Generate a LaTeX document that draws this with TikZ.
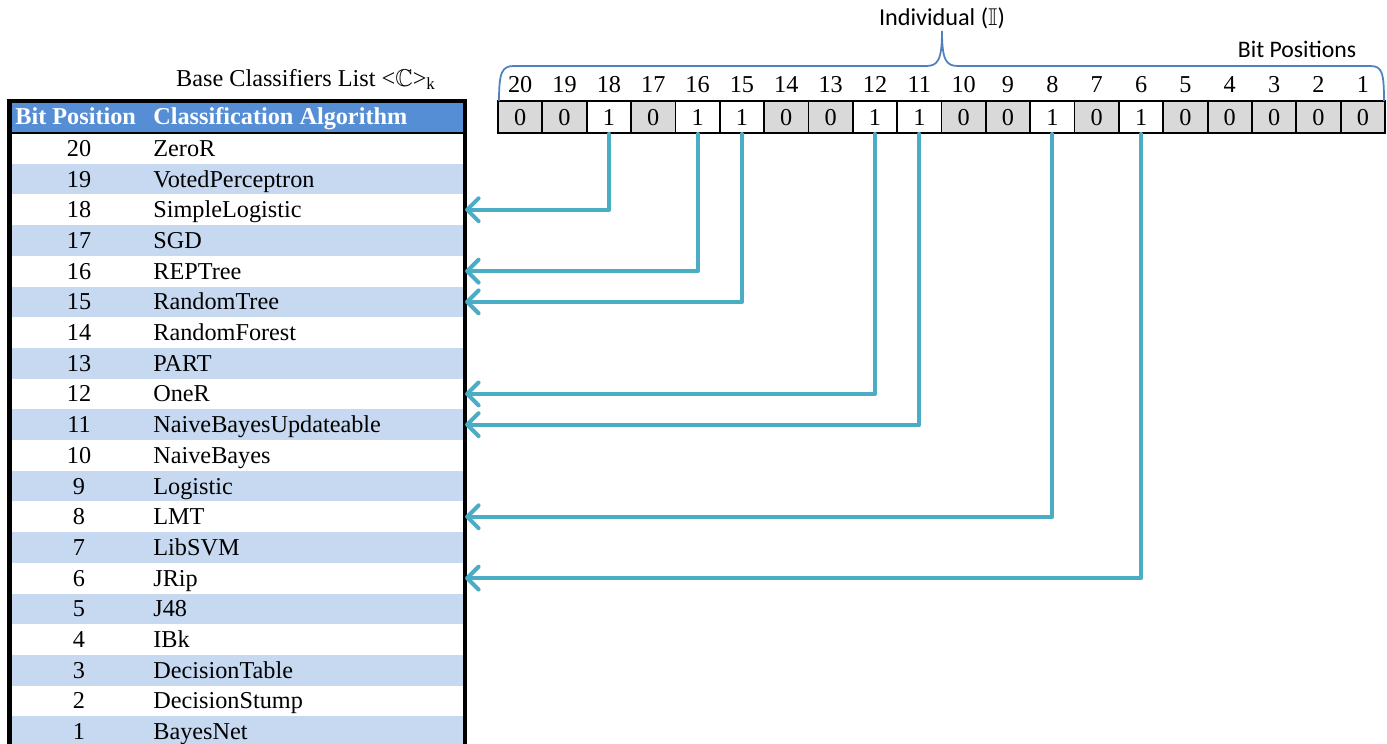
\documentclass[tikz,border=0pt]{standalone}
\usepackage{fontspec}
\usepackage{amssymb}
\setmainfont{Liberation Serif}
\newfontfamily\calibri{Carlito}
\usetikzlibrary{arrows.meta}
\definecolor{hdrblue}{HTML}{558ED5}
\definecolor{rowblue}{HTML}{C6D9F1}
\definecolor{cellgray}{HTML}{D9D9D9}
\definecolor{bracecol}{HTML}{4F81BD}
\definecolor{linkcol}{HTML}{4BACC6}
\begin{document}
\begin{tikzpicture}[x=0.02cm,y=-0.02cm,
    every node/.style={font=\fontsize{13.8}{16}\selectfont},
    rowbox/.style={minimum width=9.1cm,minimum height=0.614cm,inner sep=0,anchor=west},
    bitbox/.style={draw,line width=1pt,minimum width=0.887cm,minimum height=0.64cm,inner sep=0},
    celltext/.style={inner sep=0,anchor=base},
    headtext/.style={inner sep=0,anchor=base west,text=white,font=\fontsize{13.8}{16}\selectfont\bfseries},
    link/.style={draw=linkcol,line width=2.3pt,line cap=round,line join=round,
        -{Straight Barb[length=6.5pt,width=13pt,round]}}]
    \clip (0,0) rectangle (1387,744);
    % classifier list
    \node[anchor=base] (title) at (306,86) {Base Classifiers List <$\mathbb{C}$>\textsubscript{k}};
    \node[rowbox,fill=hdrblue,minimum height=0.62cm] (head) at (9.5,117) {};
    \node[headtext] (headbit) at (15,124) {Bit Position};
    \node[headtext] (headalg) at (153,124) {Classification Algorithm};
    \foreach \b/\alg in {20/ZeroR,19/VotedPerceptron,18/SimpleLogistic,17/SGD,16/REPTree,
        15/RandomTree,14/RandomForest,13/PART,12/OneR,11/NaiveBayesUpdateable,10/NaiveBayes,
        9/Logistic,8/LMT,7/LibSVM,6/JRip,5/J48,4/IBk,3/DecisionTable,2/DecisionStump,1/BayesNet} {
        \pgfmathsetmacro\ry{148.35+30.7*(20-\b)}
        \pgfmathsetmacro\rb{\ry+8}
        \pgfmathtruncatemacro\odd{mod(\b,2)}
        \ifnum\odd=1 \def\rowfill{rowblue}\else\def\rowfill{white}\fi
        \node[rowbox,fill=\rowfill] (row\b) at (9.5,\ry) {};
        \node[celltext] (num\b) at (79,\rb) {\b};
        \node[celltext,anchor=base west] (alg\b) at (153,\rb) {\alg};
    }
    \draw[line width=1pt] (head.south west) -- (head.south east);
    \draw[line width=2.6pt] (head.north west) rectangle (row1.south east);
    % individual
    \foreach \b/\v in {20/0,19/0,18/1,17/0,16/1,15/1,14/0,13/0,12/1,11/1,
        10/0,9/0,8/1,7/0,6/1,5/0,4/0,3/0,2/0,1/0} {
        \pgfmathsetmacro\bx{520.2+44.35*(20-\b)}
        \ifnum\v=0 \def\bitfill{cellgray}\else\def\bitfill{white}\fi
        \node[bitbox,fill=\bitfill] (bit\b) at (\bx,117) {};
        \node[celltext] (val\b) at (\bx,125) {\v};
        \node[celltext] (pos\b) at (\bx,92) {\b};
    }
    \draw[bracecol,line width=1pt] (499,101) .. controls (499,72) and (502,66) .. (514,66)
        -- (926,66) .. controls (938,66) and (942,60) .. (942,31)
        .. controls (942,60) and (946,66) .. (958,66) -- (1370,66)
        .. controls (1382,66) and (1384,72) .. (1384,101);
    \node[font=\fontsize{13.8}{16}\selectfont\calibri] (indiv) at (942,18) {Individual ($\mathbb{I}$)};
    \node[font=\fontsize{13.5}{16}\selectfont\calibri] (bitpos) at (1297,49) {Bit Positions};
    % links
    \foreach \b in {18,16,15,12,11,8,6}
        \draw[link] (bit\b.south) |- (row\b.east);
\end{tikzpicture}
\end{document}
